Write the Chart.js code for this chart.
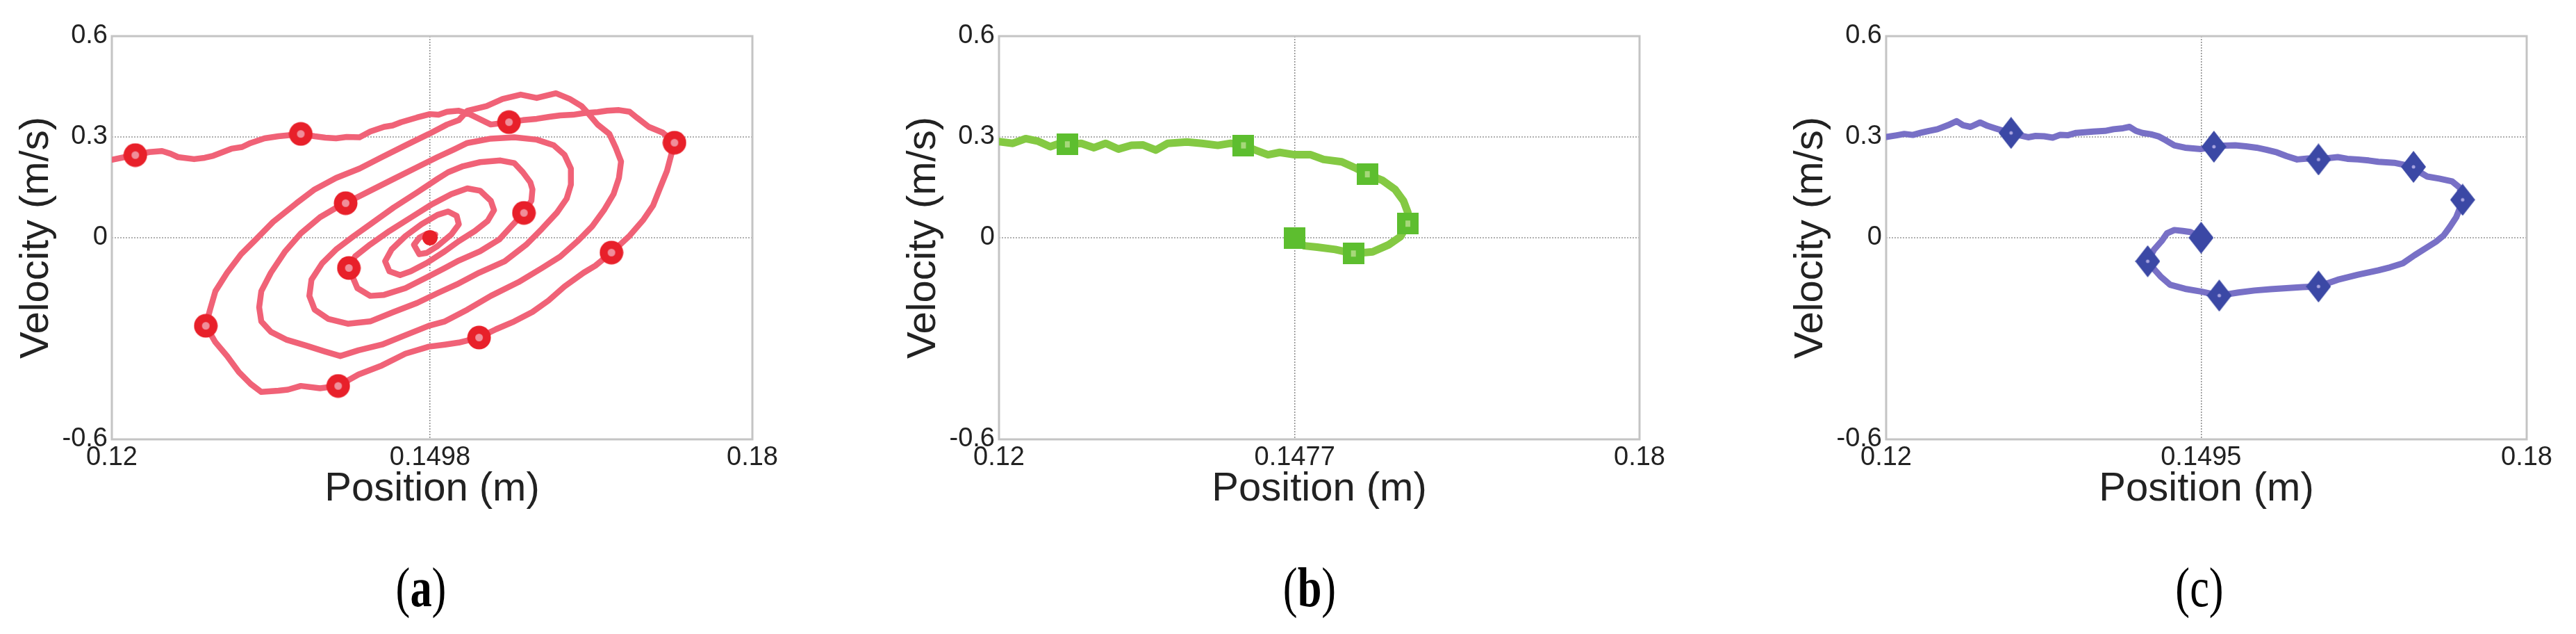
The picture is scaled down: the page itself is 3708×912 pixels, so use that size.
<!DOCTYPE html>
<html>
<head>
<meta charset="utf-8">
<script src="https://cdn.jsdelivr.net/npm/chart.js@4.4.1/dist/chart.umd.min.js"></script>
<style>
html,body{margin:0;padding:0;background:#ffffff;}
body{width:3708px;height:912px;position:relative;overflow:hidden;}
canvas{position:absolute;top:0;}
.lab{position:absolute;top:805px;width:200px;text-align:center;font-family:'Liberation Serif','Times New Roman',serif;font-size:80px;line-height:80px;color:#000;transform:scaleX(0.78);}
.lab b{font-weight:bold;}
</style>
</head>
<body>
<canvas id="ca" width="1143" height="760" style="left:0px"></canvas>
<canvas id="cb" width="1143" height="760" style="left:1277px"></canvas>
<canvas id="cc" width="1143" height="760" style="left:2554px"></canvas>
<div class="lab" style="left:506px">(<b>a</b>)</div>
<div class="lab" style="left:1785px">(<b>b</b>)</div>
<div class="lab" style="left:3066px">(c)</div>
<script>
// ---------- data ----------
const xTitle = 'Position (m)';
const yTitle = 'Velocity (m/s)';
const xRange = [0.12, 0.18];
const yRange = [-0.6, 0.6];
const yTickVals = [-0.6, 0, 0.3, 0.6];
const yTickText = ['-0.6', '0', '0.3', '0.6'];
const xTickValsA = [0.12, 0.1498, 0.18];
const xTickTextA = ['0.12', '0.1498', '0.18'];
const xTickValsB = [0.12, 0.1477, 0.18];
const xTickTextB = ['0.12', '0.1477', '0.18'];
const xTickValsC = [0.12, 0.1495, 0.18];
const xTickTextC = ['0.12', '0.1495', '0.18'];

// panel (a): position / velocity trajectory
const pathA = [
[0.1200,0.232],[0.1212,0.240],[0.1222,0.246],[0.1235,0.255],[0.1247,0.258],[0.1255,0.250],[0.1262,0.240],[0.1277,0.234],[0.1287,0.238],[0.1295,0.244],
[0.1312,0.265],[0.1322,0.270],[0.1330,0.282],[0.1343,0.296],[0.1356,0.302],[0.1366,0.305],[0.1377,0.309],[0.1390,0.302],[0.1400,0.298],[0.1410,0.296],
[0.1420,0.300],[0.1432,0.299],[0.1442,0.316],[0.1455,0.330],[0.1463,0.334],[0.1471,0.344],[0.1486,0.358],[0.1498,0.368],[0.1506,0.366],[0.1514,0.375],
[0.1525,0.378],[0.1535,0.368],[0.1544,0.354],[0.1555,0.337],[0.1572,0.344],[0.1585,0.350],[0.1598,0.354],[0.1610,0.360],[0.1620,0.364],[0.1632,0.366],
[0.1642,0.371],[0.1655,0.374],[0.1664,0.378],[0.1675,0.380],[0.1685,0.375],[0.1692,0.357],[0.1703,0.330],[0.1716,0.313],[0.1727,0.283],
[0.1724,0.247],[0.1720,0.199],[0.1713,0.144],[0.1707,0.096],[0.1698,0.054],[0.1685,0.006],[0.1668,-0.044],[0.1653,-0.083],[0.1642,-0.104],[0.1624,-0.145],
[0.1609,-0.187],[0.1594,-0.221],[0.1577,-0.249],[0.1560,-0.272],[0.1544,-0.297],[0.1525,-0.312],[0.1512,-0.318],[0.1497,-0.324],[0.1475,-0.345],[0.1453,-0.380],
[0.1431,-0.407],[0.1412,-0.441],[0.1395,-0.448],[0.1377,-0.441],[0.1365,-0.452],[0.1356,-0.455],[0.1340,-0.459],[0.1330,-0.435],[0.1319,-0.400],[0.1308,-0.352],
[0.1297,-0.311],[0.1288,-0.262],
[0.1292,-0.214],[0.1297,-0.159],[0.1308,-0.104],[0.1321,-0.049],[0.1334,-0.008],[0.1351,0.047],[0.1373,0.103],[0.1390,0.144],[0.1410,0.178],[0.1432,0.206],
[0.1453,0.240],[0.1475,0.275],[0.1497,0.309],[0.1514,0.337],[0.1525,0.350],[0.1533,0.378],[0.1551,0.392],[0.1566,0.413],[0.1583,0.426],[0.1598,0.416],
[0.1616,0.430],[0.1629,0.413],[0.1640,0.392],[0.1646,0.371],[0.1655,0.337],[0.1666,0.309],[0.1672,0.268],[0.1677,0.227],[0.1675,0.178],[0.1670,0.130],
[0.1661,0.082],[0.1650,0.034],[0.1637,-0.008],[0.1620,-0.056],[0.1603,-0.090],[0.1581,-0.132],[0.1555,-0.173],[0.1533,-0.214],[0.1512,-0.249],
[0.1497,-0.262],[0.1475,-0.290],[0.1453,-0.318],[0.1431,-0.335],[0.1414,-0.352],[0.1399,-0.338],[0.1382,-0.321],[0.1364,-0.304],[0.1349,-0.280],[0.1340,-0.249],
[0.1338,-0.207],
[0.1340,-0.159],[0.1349,-0.104],[0.1362,-0.042],[0.1377,0.013],[0.1395,0.061],[0.1410,0.089],[0.1419,0.103],[0.1442,0.140],[0.1464,0.175],[0.1486,0.210],
[0.1505,0.240],[0.1520,0.262],[0.1533,0.282],[0.1555,0.295],[0.1577,0.299],[0.1598,0.292],[0.1614,0.275],[0.1624,0.247],[0.1630,0.206],[0.1630,0.158],
[0.1626,0.116],[0.1617,0.075],[0.1603,0.027],[0.1588,-0.021],[0.1568,-0.070],[0.1544,-0.104],[0.1523,-0.139],
[0.1505,-0.165],[0.1486,-0.194],[0.1464,-0.221],[0.1442,-0.249],[0.1421,-0.256],[0.1403,-0.242],[0.1390,-0.214],[0.1385,-0.173],
[0.1387,-0.125],[0.1397,-0.076],[0.1410,-0.035],[0.1427,0.006],[0.1442,0.040],[0.1464,0.090],[0.1486,0.135],[0.1505,0.175],[0.1515,0.195],[0.1529,0.213],
[0.1545,0.225],[0.1564,0.230],[0.1577,0.222],[0.1585,0.195],[0.1592,0.165],[0.1594,0.144],[0.1593,0.110],[0.1586,0.074],
[0.1575,0.037],[0.1563,-0.005],[0.1545,-0.040],[0.1525,-0.068],[0.1512,-0.090],
[0.1495,-0.118],[0.1475,-0.150],[0.1455,-0.170],[0.1442,-0.173],[0.1430,-0.150],[0.1422,-0.090],
[0.1428,-0.055],[0.1442,-0.020],[0.1460,0.020],[0.1480,0.060],[0.1500,0.100],[0.1518,0.130],[0.1533,0.147],[0.1545,0.140],[0.1555,0.110],[0.1558,0.082],
[0.1552,0.050],[0.1540,0.020],[0.1525,-0.010],[0.1512,-0.040],
[0.1495,-0.075],[0.1480,-0.100],[0.1470,-0.111],[0.1460,-0.100],[0.1456,-0.070],
[0.1462,-0.035],[0.1475,0.005],[0.1490,0.040],[0.1505,0.068],[0.1515,0.078],[0.1523,0.065],[0.1525,0.040],[0.1518,0.010],[0.1505,-0.025],
[0.1495,-0.045],[0.1488,-0.049],[0.1483,-0.021],
[0.1488,0.000],[0.1495,0.012],[0.1503,0.010],[0.1498,0.000]
];
const marksA = [[0.1222,0.246],[0.1377,0.309],[0.1572,0.344],[0.1727,0.283],[0.1668,-0.044],[0.1544,-0.297],[0.1412,-0.441],[0.1288,-0.262],[0.1419,0.103],[0.1586,0.074],[0.1422,-0.090]];
const endA = [[0.1498,0.0]];

// panel (b)
const pathB = [
[0.1200,0.286],[0.1213,0.281],[0.1225,0.295],[0.1236,0.288],[0.1248,0.271],[0.1256,0.280],[0.1264,0.278],[0.1277,0.281],[0.1289,0.268],[0.1300,0.281],
[0.1312,0.264],[0.1324,0.275],[0.1335,0.276],[0.1347,0.261],[0.1358,0.281],[0.1376,0.285],[0.1390,0.281],[0.1405,0.275],[0.1417,0.281],[0.1429,0.275],
[0.1440,0.261],[0.1452,0.247],[0.1463,0.254],[0.1477,0.247],[0.1492,0.247],[0.1504,0.233],[0.1521,0.226],[0.1533,0.209],[0.1545,0.189],[0.1559,0.171],
[0.1571,0.144],[0.1579,0.109],[0.1583,0.075],[0.1583,0.042],[0.1576,0.003],[0.1565,-0.021],[0.1550,-0.042],[0.1532,-0.047],[0.1515,-0.035],[0.1498,-0.028],
[0.1486,-0.024],[0.1477,-0.001]
];
const marksB = [[0.1264,0.278],[0.1429,0.275],[0.1545,0.189],[0.1583,0.042],[0.1532,-0.047]];
const endB = [[0.1477,0.0]];

// panel (c)
const pathC = [
[0.1200,0.300],[0.1210,0.305],[0.1217,0.309],[0.1225,0.306],[0.1232,0.312],[0.1240,0.318],[0.1248,0.323],[0.1258,0.335],[0.1266,0.347],[0.1272,0.335],
[0.1279,0.330],[0.1288,0.343],[0.1295,0.333],[0.1302,0.326],[0.1310,0.318],[0.1317,0.312],[0.1325,0.305],[0.1333,0.299],[0.1340,0.303],[0.1348,0.302],
[0.1356,0.298],[0.1363,0.306],[0.1370,0.305],[0.1378,0.312],[0.1394,0.316],[0.1405,0.318],[0.1413,0.323],[0.1422,0.326],[0.1428,0.330],[0.1434,0.318],
[0.1440,0.312],[0.1448,0.308],[0.1455,0.302],[0.1462,0.290],[0.1470,0.275],[0.1480,0.268],[0.1495,0.264],[0.1507,0.271],[0.1517,0.274],[0.1527,0.275],
[0.1537,0.272],[0.1547,0.268],[0.1556,0.262],[0.1566,0.254],[0.1575,0.243],[0.1585,0.233],[0.1595,0.236],[0.1605,0.233],[0.1614,0.237],[0.1623,0.240],
[0.1632,0.235],[0.1642,0.233],[0.1652,0.230],[0.1661,0.226],[0.1676,0.223],[0.1694,0.211],[0.1700,0.195],[0.1707,0.182],[0.1718,0.176],[0.1730,0.168],
[0.1737,0.150],[0.1740,0.113],[0.1737,0.085],[0.1734,0.061],[0.1728,0.032],[0.1722,0.006],[0.1715,-0.012],[0.1707,-0.028],[0.1695,-0.052],[0.1684,-0.076],
[0.1672,-0.088],[0.1661,-0.097],[0.1642,-0.110],[0.1623,-0.125],[0.1605,-0.145],[0.1590,-0.147],[0.1575,-0.150],[0.1560,-0.153],[0.1545,-0.157],[0.1530,-0.163],
[0.1512,-0.172],[0.1495,-0.160],[0.1480,-0.152],[0.1466,-0.140],[0.1457,-0.115],[0.1450,-0.090],[0.1445,-0.070],[0.1451,-0.035],[0.1458,-0.010],[0.1463,0.013],
[0.1470,0.023],[0.1478,0.020],[0.1485,0.017],[0.1495,0.000]
];
const marksC = [[0.1317,0.312],[0.1507,0.271],[0.1605,0.233],[0.1694,0.211],[0.1740,0.113],[0.1605,-0.145],[0.1512,-0.172],[0.1445,-0.070]];
const endC = [[0.1495,0.0]];

// ---------- marker images ----------
function ringImg(){
  const c=document.createElement('canvas'); c.width=35; c.height=35;
  const g=c.getContext('2d');
  g.fillStyle='#e8202a'; g.beginPath(); g.arc(17.5,17.5,17,0,Math.PI*2); g.fill();
  g.fillStyle='#f08e9a'; g.beginPath(); g.arc(17.5,17.5,5.5,0,Math.PI*2); g.fill();
  return c;
}
function squareImg(dot){
  const c=document.createElement('canvas'); c.width=31; c.height=31;
  const g=c.getContext('2d');
  g.fillStyle='#5dbe2f'; g.fillRect(0,0,31,31);
  if(dot){ g.fillStyle='#a6d87a'; g.fillRect(12,11,7,9); }
  return c;
}
function diamondImg(dot){
  const c=document.createElement('canvas'); c.width=36; c.height=46;
  const g=c.getContext('2d');
  g.fillStyle='#3b48a5'; g.beginPath(); g.moveTo(18,0); g.lineTo(36,23); g.lineTo(18,46); g.lineTo(0,23); g.closePath(); g.fill();
  if(dot){ g.fillStyle='#a8a4e0'; g.beginPath(); g.arc(18,23,2.5,0,Math.PI*2); g.fill(); }
  return c;
}

const toXY = arr => arr.map(p => ({x:p[0], y:p[1]}));

Chart.defaults.font.family = "'Liberation Sans', Arial, Helvetica, sans-serif";
Chart.defaults.color = '#222';

const framePlugin = {
  id:'frame',
  beforeDatasetsDraw(chart){
    const {ctx, chartArea:a} = chart;
    ctx.save();
    ctx.strokeStyle = '#c4c4c4';
    ctx.lineWidth = 3;
    ctx.strokeRect(a.left, a.top, a.right - a.left, a.bottom - a.top);
    ctx.restore();
  }
};

function build(id, path, marks, ends, xVals, xText, lineColor, lineWidth, markStyle, endStyle, endRadius, endColor){
  new Chart(document.getElementById(id), {
    type:'scatter',
    data:{ datasets:[
      { data: toXY(ends), showLine:false, pointStyle:endStyle, pointRadius:endRadius, pointBackgroundColor:endColor, pointBorderColor:endColor, pointBorderWidth:0, order:0 },
      { data: toXY(marks), showLine:false, pointStyle:markStyle, pointRadius:12, order:1 },
      { data: toXY(path), showLine:true, pointRadius:0, borderColor:lineColor, borderWidth:lineWidth, tension:0, borderJoinStyle:'round', borderCapStyle:'round', fill:false, order:2 }
    ]},
    options:{
      responsive:false, animation:false, devicePixelRatio:1,
      layout:{ padding:{ left:0, right:60, top:52, bottom:0 } },
      plugins:{ legend:{display:false}, tooltip:{enabled:false} },
      scales:{
        x:{
          type:'linear', min:xRange[0], max:xRange[1],
          afterBuildTicks: s => { s.ticks = xVals.map(v => ({value:v})); },
          afterFit: s => { s.height = 128; },
          ticks:{ callback:(v,i) => xText[i], autoSkip:false, maxRotation:0, padding:8, color:'#222', font:{size:38, lineHeight:1} },
          grid:{ drawTicks:false, lineWidth:1.5, color: c => (c.index === 1 ? '#8c8c8c' : 'rgba(0,0,0,0)') },
          border:{ display:false, dash:[2,2] },
          title:{ display:true, text:xTitle, color:'#222', font:{size:58, lineHeight:1}, padding:{top:0, bottom:27} }
        },
        y:{
          type:'linear', min:yRange[0], max:yRange[1],
          afterBuildTicks: s => { s.ticks = yTickVals.map(v => ({value:v})); },
          afterFit: s => { s.width = 161; },
          ticks:{ callback:(v,i) => yTickText[i], autoSkip:false, padding:6, color:'#222', font:{size:38, lineHeight:1} },
          grid:{ drawTicks:false, lineWidth:2, color: c => ((c.index === 1 || c.index === 2) ? '#b0b0b0' : 'rgba(0,0,0,0)') },
          border:{ display:false, dash:[2,2] },
          title:{ display:true, text:yTitle, color:'#222', font:{size:58, lineHeight:1}, padding:{top:24, bottom:0} }
        }
      }
    },
    plugins:[framePlugin]
  });
}

build('ca', pathA, marksA, endA, xTickValsA, xTickTextA, '#f06277', 8.5, ringImg(), 'circle', 11, '#e8202a');
build('cb', pathB, marksB, endB, xTickValsB, xTickTextB, '#84c943', 11, squareImg(true), squareImg(false), 12, '#5dbe2f');
build('cc', pathC, marksC, endC, xTickValsC, xTickTextC, '#7870c6', 9, diamondImg(true), diamondImg(false), 12, '#3b48a5');
</script>
</body>
</html>
